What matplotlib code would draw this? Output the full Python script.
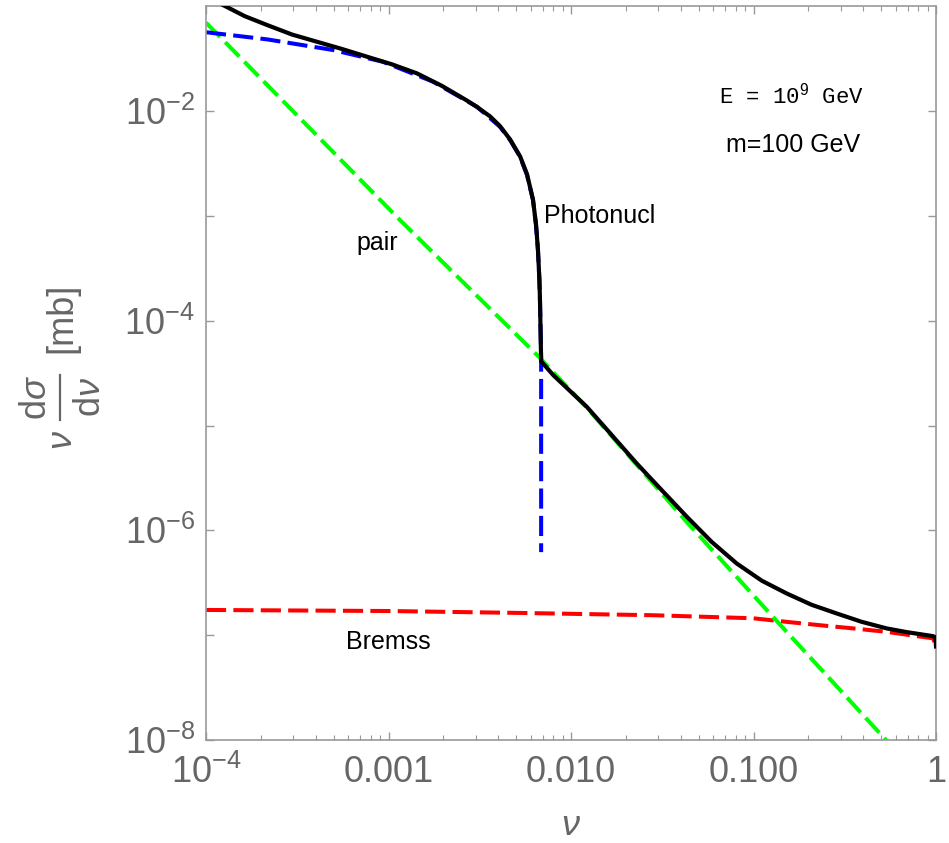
import matplotlib
matplotlib.use("Agg")
import matplotlib.pyplot as plt
from matplotlib.lines import Line2D
from matplotlib.ticker import FixedLocator, NullFormatter, NullLocator

plt.rcParams['font.family'] = ['Liberation Sans', 'DejaVu Sans']
plt.rcParams['mathtext.fontset'] = 'custom'
plt.rcParams['mathtext.rm'] = 'Liberation Sans'
plt.rcParams['mathtext.it'] = 'Liberation Sans:italic'
plt.rcParams['mathtext.bf'] = 'Liberation Sans:bold'

# ---- data ----
photo_x = [1e-4, 2.16e-4, 4.97e-4, 9.33e-4, 1.75e-3, 3.05e-3, 4.08e-3, 4.64e-3,
           5.26e-3, 5.74e-3, 6.19e-3, 6.43e-3, 6.59e-3, 6.71e-3, 6.76e-3, 6.86e-3, 6.86e-3]
photo_y = [0.0565, 0.0483, 0.0382, 0.0295, 0.0191, 0.0110, 7.08e-3, 5.28e-3,
           3.66e-3, 2.45e-3, 1.42e-3, 8.2e-4, 4.72e-4, 2.45e-4, 1.58e-4, 4.5e-5, 6.2e-7]

pair_x = [1e-4, 1.156e-3, 6.52e-3, 0.0122, 0.0431, 0.128, 0.532, 0.63]
pair_y = [0.0697, 9.12e-4, 4.7e-5, 1.48e-5, 1.2e-6, 1.49e-7, 1e-8, 7.3e-9]

brems_x = [1e-4, 1e-3, 5.26e-3, 0.0281, 0.0993, 0.152, 0.231, 0.352, 0.537, 0.721, 0.964, 1.0]
brems_y = [1.74e-7, 1.70e-7, 1.63e-7, 1.55e-7, 1.45e-7, 1.34e-7, 1.245e-7, 1.16e-7,
           1.076e-7, 1.0e-7, 9.33e-8, 7.8e-8]

total_x = [1.24e-4, 1.63e-4, 2.16e-4, 2.96e-4, 4.06e-4, 5.56e-4, 7.62e-4, 1.045e-3,
           1.43e-3, 1.96e-3, 2.69e-3, 3.05e-3, 3.6e-3, 4.08e-3, 4.64e-3, 5.26e-3,
           5.74e-3, 6.19e-3, 6.43e-3, 6.59e-3, 6.71e-3, 6.76e-3, 6.81e-3, 6.86e-3,
           8.0e-3, 0.0122, 0.0167, 0.0229, 0.0314, 0.0431, 0.059, 0.0809, 0.111,
           0.152, 0.208, 0.286, 0.392, 0.537, 0.69, 0.889, 0.959, 0.985, 0.995, 1.0]
total_y = [0.1026, 0.0804, 0.0662, 0.0537, 0.0458, 0.0391, 0.0330, 0.0279,
           0.0229, 0.0174, 0.0126, 0.01096, 8.9e-3, 7.2e-3, 5.35e-3, 3.7e-3,
           2.5e-3, 1.43e-3, 8.3e-4, 4.75e-4, 2.5e-4, 1.6e-4, 8.1e-5, 4.1e-5,
           3.02e-5, 1.51e-5, 8.13e-6, 4.35e-6, 2.42e-6, 1.35e-6, 7.76e-7, 4.83e-7, 3.31e-7,
           2.5e-7, 1.95e-7, 1.61e-7, 1.34e-7, 1.16e-7, 1.07e-7, 1.0e-7, 9.8e-8, 9.6e-8,
           9.0e-8, 7.8e-8]

xticks = [1e-4, 1e-3, 1e-2, 1e-1, 1]
xticklabels = [r'$10^{-4}$', '0.001', '0.010', '0.100', '1']
yticks = [1e-8, 1e-6, 1e-4, 1e-2]
yticklabels = [r'$10^{-8}$', r'$10^{-6}$', r'$10^{-4}$', r'$10^{-2}$']

# ---- figure ----
W, H = 949, 843
fig = plt.figure(figsize=(W / 100, H / 100), dpi=100)
L, R, B, T = 206, 936, 740, 5.7
ax = fig.add_axes([L / W, 1 - B / H, (R - L) / W, (B - T) / H])

lw = 2.9
ax.plot(brems_x, brems_y, color=(1, 0, 0), lw=lw, dashes=(5, 1.8), zorder=2)
ax.plot(pair_x, pair_y, color=(0, 1, 0), lw=lw, dashes=(5, 1.8), zorder=2)
ax.plot(photo_x, photo_y, color=(0, 0, 1), lw=lw, dashes=(5, 1.8), zorder=2)
ax.plot(total_x, total_y, color='black', lw=3.0, zorder=3, solid_joinstyle='round')

ax.set_xscale('log')
ax.set_yscale('log')
ax.set_xlim(1e-4, 1)
ax.set_ylim(1e-8, 10 ** (-0.995))

gray = '#666666'
for s in ax.spines.values():
    s.set_color('#999999')
    s.set_linewidth(1.2)

ax.xaxis.set_major_locator(FixedLocator(xticks))
ax.set_xticklabels(xticklabels)
minors = [m * 10.0 ** e for e in range(-4, 0) for m in range(2, 10)]
ax.xaxis.set_minor_locator(FixedLocator(minors))
ax.xaxis.set_minor_formatter(NullFormatter())

ydec = [10.0 ** e for e in range(-8, -1)]
ax.set_yticks(ydec)
ax.set_yticklabels([yticklabels[yticks.index(v)] if v in yticks else '' for v in ydec])
ax.yaxis.set_minor_locator(NullLocator())

ax.tick_params(which='both', direction='in', top=True, right=True,
               color='#999999', labelcolor=gray, labelsize=26)
ax.tick_params(axis='x', which='major', length=6, width=1.0, pad=11)
ax.tick_params(axis='y', which='major', length=6, width=1.0, pad=8)
ax.tick_params(which='minor', length=3.5, width=0.8)

def fx(px):
    return (px - L) / (R - L)

def fy(py):
    return (B - py) / (B - T)

ax.set_xlabel(r'$\nu$', fontsize=26, color=gray)
ax.xaxis.set_label_coords(0.5, fy(808))

# y label built from pieces (nu, fraction d sigma / d nu, [mb])
def ftext(px, py, s, **kw):
    fig.text(px / W, 1 - py / H, s, rotation=90, ha='center', va='center',
             color=gray, fontsize=26, **kw)

ftext(62, 440, r'$\nu$')
ftext(36, 397, r'd$\sigma$')
ftext(91, 397, r'd$\nu$')
ftext(62, 318, '[mb]')
fig.add_artist(Line2D([60 / W, 60 / W], [1 - 375 / H, 1 - 420 / H], color=gray, lw=1.6,
                      transform=fig.transFigure))

ax.text(fx(377), fy(243), 'pair', transform=ax.transAxes, fontsize=18,
        ha='center', va='center')
ax.text(fx(544), fy(216), 'Photonucl', transform=ax.transAxes, fontsize=18,
        ha='left', va='center')
ax.text(fx(388), fy(642), 'Bremss', transform=ax.transAxes, fontsize=18,
        ha='center', va='center')
ax.text(fx(791), fy(96), r'E = 10$^{9}$ GeV', transform=ax.transAxes, fontsize=16,
        ha='center', va='center', family='Liberation Mono')
ax.text(fx(793), fy(145), 'm=100 GeV', transform=ax.transAxes, fontsize=18,
        ha='center', va='center')

fig.savefig('out.png', dpi=100)
